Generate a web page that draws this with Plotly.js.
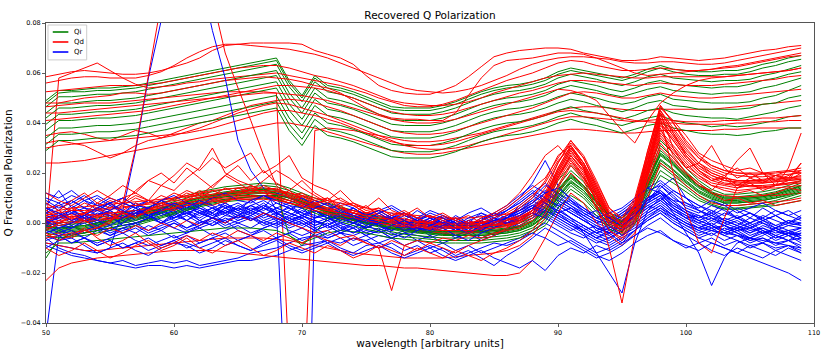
<!DOCTYPE html>
<html><head><meta charset="utf-8">
<script src="https://cdn.plot.ly/plotly-3.0.1.min.js"></script>
<style>html,body{margin:0;padding:0;background:#fff;}#chart{width:832px;height:355px;}</style>
</head><body><div id="chart"></div>
<script>
// wavelength samples
const wavelength = [50,51,52,53,54,55,56,57,58,59,60,61,62,63,64,65,66,67,68,69,70,71,72,73,74,75,76,77,78,79,80,81,82,83,84,85,86,87,88,89,90,91,92,93,94,95,96,97,98,99,100,101,102,103,104,105,106,107,108,109];
// all polarization values below are in units of 0.001
const qiUpper = [
[49,53,53,53.5,54,54,54.5,55,56,57, 58,59,60,61,62,63,64,65,66,57, 51,59,55,54,52.5,50.5,48.5,46.5,46,46, 46,47,48.5,50.5,52.5,54,55,55.5,56.5,58, 60.5,62,61,60,59,58,59.5,61.5,63,61.5, 61,60.5,60.5,61,61,62,63.5,64.5,66,67],
[48,52,52.5,52.5,53,53,53.5,54,55,56, 57,58,59,60,61,62,63,64,65,56, 50,58,54,53,51.5,49.5,47.5,45.5,45,45, 45,46,47.5,49.5,51.5,53,54,54.5,55.5,57, 59.5,61,60,59,58,57,58.5,60.5,62,60.5, 59.5,59,59,59.5,59.5,60.5,62,63,64.5,65.5],
[46.5,50.5,50.5,51,51.5,51.5,52,52.5,53.5,54.5, 55.5,56.5,57.5,58.5,59.5,60.5,61.5,62.5,63.5,54.5, 48.5,56.5,52.5,51.5,50,48,46,44,43.5,43.5, 43.5,44.5,46,48,50,51.5,52.5,53,54,55.5, 58,59.5,58.5,57.5,56,55,56.5,58.5,59.5,58, 57.5,57,56.5,57,57,57.5,59,60,61.5,63],
[44,48,48,48.5,49,49,49.5,50,51,52, 53,54,55,56,57,58,59,60,61,52, 46,54,50,49,47.5,45.5,43.5,41.5,41,41, 41,42,43.5,45.5,47.5,49,50,50.5,51.5,53, 55.5,57,56,55,53.5,52.5,54,56,57,55.5, 55,54.5,54,54.5,54.5,55.5,57,58,59.5,60.5],
[42,46,46,46.5,47,47,47.5,48,49,50, 51,52,53,54,55,56,57,58,59,50, 44,52,48,47,45.5,43.5,41.5,39.5,39,39, 39,40,41.5,43.5,45.5,47,48,48.5,49.5,51, 53.5,55,54,53,51.5,50.5,52,53.5,54.5,53, 52.5,52,51.5,52,52,52.5,54,55,56.5,58],
[39.5,43.5,43.5,44,44.5,44.5,45,45.5,46.5,47.5, 48.5,49.5,50.5,51.5,52.5,53.5,54.5,55.5,56.5,47.5, 41.5,49.5,45.5,44.5,43,41,39,37,36.5,36.5, 36.5,37.5,39,41,43,44.5,45.5,46,47,48.5, 50.5,52,51,50,48.5,47.5,48.5,50.5,51.5,49.5, 49,48.5,48,48,48,48.5,50,51,53,55],
[37,41,41,41.5,42,42,42.5,43,44,45, 46,47,48,49,50,51,52,53,54,45, 39,47,43,42,40.5,38.5,36.5,34.5,34,34, 34,35,36.5,38.5,40.5,42,43,43.5,44.5,46, 48,49.5,48.5,47,46,44.5,46,48,49,47, 46.5,45.5,45.5,45.5,45.5,46,47.5,48,50,51],
[34,38,38,38.5,39,39,39.5,40,41,42, 43,44,45,46,47,48,49,50,51,42, 36,44,40,39,37.5,35.5,33.5,31.5,31,31, 31,32,33.5,35.5,37.5,39,40,40.5,41.5,43, 45,46.5,45,44,43,41.5,43,45,46,44, 43,42.5,42,42,41.5,42.5,43.5,44.5,46,47],
[31.5,35.5,35.5,36,36.5,36.5,37,37.5,38.5,39.5, 40.5,41.5,42.5,43.5,44.5,45.5,46.5,47.5,48.5,39.5, 33.5,41.5,37.5,36.5,35,33,31,29,28.5,28.5, 28.5,29.5,31,33,35,36.5,37.5,38,39,40.5, 42.5,44,42.5,41.5,40,39,40.5,42,43,41, 40,39.5,38.5,39,38.5,39,40,41,42.5,43],
[29,33,33,33.5,34,34,34.5,35,36,37, 38,39,40,41,42,43,44,45,46,37, 31,39,35,34,32.5,30.5,28.5,26.5,26,26, 26,27,28.5,30.5,32.5,34,35,35.5,36.5,38, 40,41.5,40,39,37.5,36,37.5,39,40,38, 37,36,35.5,35.5,35,35.5,36.5,37,38,38]
];
const qiLower = [
[1,0,0.5,1,2,3,4,5,6.5,8, 9.5,11,12.5,13.5,14.5,15,15.5,16,15.5,14, 12,10,8,6.5,5,3.5,2.5,1.5,0.5,0, -0.5,-1,-1,-1,-1,-0.5,0,1,3,8, 17,23,18,11,4,2,7,21,33,28, 22,17,13.5,11.5,11.5,12,12.5,13.5,15,17],
[0,-1,-0.5,0,1,2,3,4,5.5,7, 8.5,10,11.5,12.5,13.5,14,14.5,15,14.5,13, 11,9,7,5.5,4,2.5,1.5,0.5,-0.5,-1, -1.5,-2,-2,-2,-2,-1.5,-1,0,2,6.5, 15,21,16.5,10,3,1,6,19,31,26, 20.5,16,12.5,10.5,10.5,11,11.5,12.5,14,16],
[-1,-2,-1.5,-1,0,1,2,3,4.5,6, 7.5,9,10.5,11.5,12.5,13,13.5,14,13.5,12, 10,8,6,4.5,3,1.5,0.5,-0.5,-1.5,-2, -2.5,-3,-3,-3,-3,-2.5,-2,-1,1,5, 13.5,19.5,15,9,2.5,0.5,5,17.5,29,24.5, 19.5,15,12,10,10,10.5,11,12,13.5,15],
[-1.5,-2.5,-2,-1.5,-0.5,0.5,1.5,2.5,4,5.5, 7,8.5,10,11,12,12.5,13,13.5,13,11.5, 9.5,7.5,5.5,4,2.5,1,0,-1,-2,-2.5, -3,-3.5,-3.5,-3.5,-3.5,-3,-2.5,-1.5,0.5,4.5, 12.5,18.5,14.5,8.5,2,0,4.5,16.5,27.5,23.5, 18.5,14.5,11.5,9.5,9.5,10,10.5,11.5,13,14.5],
[-2,-3,-2.5,-2,-1,0,1,2,3.5,5, 6.5,8,9.5,10.5,11.5,12,12.5,13,12.5,11, 9,7,5,3.5,2,0.5,-0.5,-1.5,-2.5,-3, -3.5,-4,-4,-4,-4,-3.5,-3,-2,0,4, 12,18,14,8,2,0,4,16,27,23, 18,14,11,9,9,9.5,10,11,12.5,14],
[-2.5,-3.5,-3,-2.5,-1.5,-0.5,0.5,1.5,3,4.5, 6,7.5,9,10,11,11.5,12,12.5,12,10.5, 8.5,6.5,4.5,3,1.5,0,-1,-2,-3,-3.5, -4,-4.5,-4.5,-4.5,-4.5,-4,-3.5,-2.5,-0.5,3, 11,17,13,7,1,-1,3,15,25.5,21.5, 17,13,10.5,8.5,8.5,9,9.5,10.5,12,13.5],
[-3,-4,-3.5,-3,-2,-1,0,1,2.5,4, 5.5,7,8.5,9.5,10.5,11,11.5,12,11.5,10, 8,6,4,2.5,1,-0.5,-1.5,-2.5,-3.5,-4, -4.5,-5,-5,-5,-5,-4.5,-4,-3,-1,2.5, 10,16,12,6.5,0.5,-1.5,2.5,14,24,20, 16,12,9.5,8,8,8.5,9,10,11.5,13],
[-4,-5,-4.5,-4,-3,-2,-1,0,1.5,3, 4.5,6,7.5,8.5,9.5,10,10.5,11,10.5,9, 7,5,3,1.5,0,-1.5,-2.5,-3.5,-4.5,-5, -5.5,-6,-6,-6,-6,-5.5,-5,-4,-2,1.5, 9,15,11,5.5,-0.5,-2.5,1.5,13,23,19, 15,11,8.5,7,7,7.5,8,9,10.5,12],
[-5,-6,-5.5,-5,-4,-3,-2,-1,0.5,2, 3.5,5,6.5,7.5,8.5,9,9.5,10,9.5,8, 6,4,2,0.5,-1,-2.5,-3.5,-4.5,-5.5,-6, -6.5,-7,-7,-7,-7,-6.5,-6,-5,-3,0.5, 8,13.5,10,4.5,-1.5,-3.5,0.5,11.5,21,17.5, 14,10,7.5,6,6,6.5,7,8,9.5,11],
[-12,-8,-8,-7.5,-7,-6.5,-6,-5.5,-5,-4.5, -4,-3.5,-3,-2.5,-2,-2,-2,-2.5,-3,-5, -8,-6,-4,-3,-3.5,-4,-5,-6,-6.5,-7, -7.5,-8,-8,-8,-8,-7.5,-7,-6,-4,-1, 6,11,8,3,-2.5,-4.5,-0.5,10,19,16, 12.5,9,7,5.5,5.5,6,6.5,7,8,9],
[-14,-6,-5,-4,-3,-2,-1,0,1,2.5, 4,5.5,7,8,9,10,10.5,11,11,10, 8,6.5,4.5,3,1.5,0,-1,-2,-3,-3.5, -4,-4.5,-5,-5,-5,-4.5,-4,-3,-1,3, 10.5,16.5,13,7,1,-1,3,14.5,25,21, 16.5,12.5,10,8,8,8.5,9,10,11,12.5],
[-1,-2,-1.5,-1,0,1,2,3,4.5,6, 7,8.5,10,11,12,12.5,13,13.5,12,-5, -9,-4,2,2.5,1.5,0,-1,-2,-2.5,-3, -3.5,-3.5,-3.5,-3.5,-3.5,-3,-2.5,-1.5,0.5,5, 13,19,15,9,3,0.5,5,17,28,24, 19,15,12,10,10,10,10.5,11.5,13,15]
];
const qdUpper = [
[58.5,59.5,60.5,61,60.5,60,59.5,59.5,60,61, 62.5,64,66,69,71,71.5,72,72,72,72, 71.5,69,67.5,66,63.5,59,55,53,52,51.5, 51.5,53,55,58.5,62.5,66.5,68,69,69.5,70, 70,69.5,68,67,66,65,65,65.5,66.5,66, 65.5,65,65.5,66,67,68,69,69.5,70.5,71],
[56,57,58,58.5,58.5,58,58,58,59,60.5, 63,66,68.5,70.5,71.5,71.5,71,70.5,70,69.5, 68.5,67.5,66,64,62,60,58,56,54,53, 52.5,52,52.5,53.5,55,57,59,61.5,63.5,65, 66,66.5,66.5,66,65.5,64.5,64,64,64.5,64.5, 64,63.5,63.5,64,65,66,67,68,69,70],
[-2,58,60,62,64,61,58,55.5,54,54.5, 55,56,56.5,57.5,58,58.5,59,59.5,60,59, 58,57,56,55,53.5,52,50,48.5,47,46.5, 46.5,47.5,49,51,53,55,57,58.5,60,62, 64,65,64.5,63,62,61,61,61.5,62,61.5, 61,61,61.5,62,62.5,63.5,64.5,65.5,66.5,67],
[52.5,53,53.5,54,54.5,55,55,55,55.5,56, 57,58,59,60,61,62,62.5,63,63,62, 60.5,59,58,56.5,55,53,51,49,48,47.5, 47,47,47.5,48.5,50,52,53.5,55,56.5,58, 59,59.5,60,59.5,59,58.5,58,58,58.5,58.5, 58.5,58.5,58.5,58.5,59,59.5,60,60.5,61,62],
[46.5,47,47.5,48,48,48,48.5,49,49.5,50, 50.5,51,51.5,52,52.5,52.5,52.5,52.5,52,-58, -88,37,38,37.5,37,36,35,34,33,32.5, 32.5,33,34,35,36,37.5,39,40.5,42,43.5, 45,46,46.5,46.5,46,45.5,45,45,45.5,45.5, 45.5,45.5,45.5,46,46.5,47,47.5,48,48.5,49],
[41,41.5,42,42.5,43,43.5,44,44.5,45,46, 47,48,49,50,51,52,53,54,55,55, 54.5,54,53,51.5,50,48,46,44.5,43.5,43, 43,43.5,44.5,46,47.5,49,50.5,52,53,54.5, 56,57,57,56.5,56,55.5,55,55.5,56,55.5, 55,55,55,55.5,56,56.5,57,57.5,58.5,59],
[35,36,36.5,35.5,34,33,35,37,36,34, 36,38,40,41,43,45,47,48,49,49.5, 49,48,46.5,45,43,41,39,37,36,35.5, 35.5,36,37,38.5,40,41.5,43,44.5,46,48, 50,52,52.5,52,51,50,50,51,52,51, 50.5,50,50,50.5,51,51.5,52,52.5,53,53.5],
[24,24,24.5,25,26,27,28,29,30,31, 32,33,34,35,36,37,38,39,40,40, 39,38,36.5,35,33.5,32,30.5,29,28,27.5, 27.5,28,29,30,31,32,33,34,35,36, 37,37.5,37.5,37,36.5,36,36,36.5,37,37, 37,37,37,37.5,37.5,38,38,38,38,38],
[32,33,32,31,28.5,26,28,31,33,34, 35,36.5,38,40,42,44,45.5,47,48,47.5, 46,44.5,43,41,39,37,35,33,31,30, 29.5,29.5,30,31,32.5,34,35.5,37,38.5,40, 41.5,42.5,42.5,42,41.5,41,40.5,41,41.5,41, 40.5,40.5,40.5,41,41,41.5,42,42,42.5,43],
[48,48,49,50,50.5,51,52,52,51.5,52, 53,54,55,56,57,57.5,58,58.5,58,57.5, 56.5,55,54,52,49,46,43.5,42,41.5,41.5, 41,41,44,51,58,63,65,65.5,66,67, 68,68,67.5,66,64,62,60,59,59.5,60, 60.5,61,61.5,62.5,63,64,65,66,67,68],
[44,44,44.5,45,45.5,46,46.5,47,47.5,48, 48.5,49,49.5,50,50.5,51,51.5,52,52,51.5, 51,50,49,47.5,46,44.5,43,41.5,40.5,40, 40,40.5,41.5,43,44.5,46,47.5,49,50.5,52, 53.5,53,51.5,49,43,37,32,41,48,52, 55,57,58,58.5,59,59.5,60,60.5,61,62],
[30,31,31.5,32,32.5,33,33.5,34,34.5,35, 35.5,36,37,38,39.5,41,42.5,44,45,45, 44,43,41.5,40,38,36,34,32.5,31.5,31, 31,31.5,32.5,34,35.5,37,38.5,40,41.5,43, 44.5,45,44.5,44,43,42,41,40.5,40,40, 39.5,39.5,39.5,39.5,40,40,40.5,40.5,41,41]
];
const qdLower = [
[2,3,3.5,4,5,5.5,6,7,8,9, 10,11,12,13,13.5,14,14,14,13.5,12, 10.5,9,7.5,6,5,4,3,2,1.5,1, 0.5,0,0,0,0.5,1,1.5,3,6,12, 24,33,26,15,4,0,7,26,47,40, 32,26,22,20,19,18.5,18.5,19,19.5,20],
[1,2,2.5,3,3.5,4,4.5,5,6,7, 8,9,10,11,11.5,12,12,12,11.5,10, 8.5,7,5.5,4,3,2,1,0,-0.5,-1, -1.5,-2,-2,-2,-1.5,-1,-0.5,1,4,10, 21,30,23,13,3,-1,6,23,43,36, 29,24,20,18,17,16.5,16.5,17,17.5,18],
[0,1,1.5,2,2.5,3,3.5,4,5,6, 7,8,9,10,10.5,11,11,11,10.5,9, 7.5,6,4.5,3,2,1,0,-1,-1.5,-2, -2.5,-3,-3,-3,-2.5,-2,-1.5,0,3,9, 19,28,22,12,2,-2,5,22,40,34, 27,22,19,17,16.5,16,16,16.5,17,17.5],
[-1,0,0.5,1,1.5,2,2.5,3,4,5, 6,7,8,9,9.5,10,10,10,9.5,8, 6.5,5,3.5,2,1,0,-1,-2,-2.5,-3, -3.5,-4,-4,-4,-3.5,-3,-2.5,-1,2,7, 17,25,19,10,1,-3,4,20,37,31, 25,20,17,15.5,15,14.5,14.5,15,15.5,16],
[3,5,2,4,6,3,5,8,6,9, 12,10,13,11,14,12,15,13,11,9, 11,8,6,7,4,3,5,2,0,1, -1,0,-2,1,-1,0,2,1,5,11, 22,31,24,14,3,-4,8,25,44,37, 30,24,21,19,22,18,20,17,19,21],
[5,2,6,4,8,6,10,12,9,15, 13,18,22,30,20,17,15,13,14,11, 10,8,9,6,5,3,4,1,2,0, 1,-1,0,-2,0,1,-1,2,4,9, 18,27,20,11,1,-3,3,19,36,30, 24,19,16,15,14,15,14,15,16,17],
[0,3,1,4,2,5,8,13,17,15, 19,24,21,26,22,25,28,20,23,27, 18,15,13,9,7,4,5,2,3,1, 0,2,-1,0,1,-1,0,2,5,10, 20,29,22,12,2,-2,6,22,41,35, 28,23,20,18,17,17,17.5,18,18,19],
[-8,-9,-10,-11,-11,-10.5,-10,-9.5,-9,-8.5, -8,-7.5,-7,-6.5,-6,-6,-6,-6,-6.5,-7, -8,-9,-10,-11,-12,-12.5,-13,-13.5,-14,-14, -14,-14,-13.5,-13,-12.5,-12,-11,-9,-5,2, 12,20,15,6,-3,-7,0,15,30,25, 19,15,12,11,10.5,10.5,11,11,11.5,12],
[-23,-18,-16,-15,-14,-13.5,-13,-12.5,-12,-11.5, -11,-11,-11,-11,-11.5,-12,-12.5,-13,-13.5,-14, -14.5,-15,-15.5,-16,-16.5,-17,-17,-17.5,-18,-18, -18.5,-19,-19.5,-20,-20.5,-21,-21,-20,-15,-6, 4,12,8,0,-5,-9,-4,10,24,20, 15,11,8,7,7,7.5,8,8.5,9,10],
[4,5,6,6.5,7,7.5,8,8.5,9,9.5, 10,10.5,11,11.5,12,12.5,13,13,12.5,12, 11,10,9,8,7,6,5,4,3.5,3, 2.5,2,2,2,2.5,3,3.5,5,8,14, 24,32,26,16,6,1,9,27,45,38, 31,26,23,21,20,20,20,20.5,21,22],
[-5,-4,-6,-3,-5,-2,-4,-1,-3,0, -2,1,-1,2,0,3,1,4,2,0, -2,-4,-3,-6,-5,-8,-10,-27,-9,-7, -8,-6,-7,-5,-6,-4,-3,-2,1,6, 15,24,18,9,-1,-5,2,18,34,28, 22,18,15,14,13,13.5,14,14,14.5,15],
[2,3,2.5,3.5,3,4,4.5,5,5.5,6.5, 7.5,8,9,9.5,10,10.5,10.5,10.5,10,9, 8,6.5,5,4,3,2,1,0.5,0,-0.5, -1,-1.5,-1.5,-1.5,-1,-0.5,0,1.5,4,10, 20,29,22,8,-10,-32,-5,20,42,35, 28,23,19,17,16,16,16,16.5,17,17.5],
[1,0,2,1,3,2,4,3,5,6, 5,7,8,7,9,10,9,11,10,8, 7,6,5,6,4,3,2,1,0,-1, 0,-1,-2,-1,0,-1,1,2,5,11, 21,30,23,13,3,-1,6,24,44,30, 22,24,31,22,18,20,17,19,18,24],
[-2,-1,0,0.5,1,1.5,2,3,4,5, 6,7,8,8.5,9,9.5,9.5,9.5,9,8, 6.5,5,4,3,2,1,0,-1,-1.5,-2, -2.5,-3,-3,-3,-2.5,-2,-1,0.5,3,8, 18,27,21,11,1,-2,5,21,38,27, 20,15,13,18,25,30,20,15,22,36],
[3,4,5,5,5.5,6,6.5,7,7.5,8, 9,9.5,10,10.5,11,11.5,12,12,11.5,10.5, 9,7.5,6,5,4,3,2,1.5,1,0.5, 0,-0.5,-0.5,-0.5,0,0.5,1,2.5,5,11, 22,31,24,14,4,0,7,24,42,20, 5,-8,-12,2,14,17,17,17.5,18,18.5],
[6,7,5,8,6,9,7,10,8,11, 9,12,10,13,11,14,12,15,13,11, 12,9,10,7,8,5,6,3,4,2, 3,1,2,0,1,3,6,10,14,18, 26,33,27,17,6,2,10,28,47,40, 33,27,23,21,20,19.5,19.5,20,20.5,21],
[-6,-5,-4,-3,-2,0,8,30,60,88, 110,120,112,90,68,54,41,27,15,10, 8,6,5,4,3,2,1,0,-1,-1.5, -2,-2,-2,-2,-1.5,-1,-0.5,1,4,9, 19,27,21,11,1,-3,4,21,39,33, 26,21,18,16,15.5,15,15,15.5,16,16.5],
[-4,-7,-5,-2,-6,-9,-7,-4,-8,-11, -9,-6,-10,-12,-9,-7,-10,-13,-11,-8, -10,-12,-9,-11,-14,-12,-9,-11,-13,-10, -12,-14,-11,-13,-15,-12,-10,-7,-3,4, 14,23,17,6,-3,-6,1,16,32,26, 20,16,12,9,10,8,9,7,8,9],
[8,5,9,12,8,11,15,12,17,20, 16,22,18,14,19,23,17,21,16,13, 17,12,9,13,8,6,10,5,3,6, 2,4,1,3,0,2,4,7,11,16, 25,30,24,15,5,-1,8,24,40,33, 26,21,17,19,15,18,16,19,17,20],
[-3,0,3,1,-2,1,4,2,5,8, 6,9,12,10,8,11,14,12,10,13, 9,7,10,6,4,7,3,1,4,0, -2,1,-1,-4,-2,0,3,6,10,17, 27,31,22,12,3,-1,7,27,45,36, 27,21,17,18,14,16,13,15,17,24],
[12,9,7,10,13,10,8,11,9,7, 10,13,11,15,19,16,13,17,21,18, 14,11,8,10,7,4,6,3,5,2, 0,3,1,-1,2,4,7,12,19,27, 31,25,18,9,0,-3,7,29,46,41, 35,28,25,23,21,22,20,19,21,20],
[-10,-13,-11,-8,-11,-14,-12,-9,-7,-10, -8,-5,-7,-4,-6,-3,-5,-7,-4,-6, -8,-5,-7,-9,-6,-8,-10,-7,-9,-11, -8,-10,-12,-9,-7,-5,-2,1,5,10, 18,26,19,9,-1,-4,3,19,35,29, 23,19,15,13,12,13,11,12,14,13]
];
const qr = [
[5,8,4,6,3,7,5,2,6,4, 7,5,8,6,3,6,4,7,5,3, 6,2,4,1,3,0,2,-1,1,-2, 0,2,-1,1,3,0,2,5,8,12, 9,6,3,0,-2,1,5,9,12,7, 4,2,5,1,3,0,2,-1,1,0],
[-3,0,-2,1,-1,2,0,3,1,4, 2,5,3,6,4,7,5,3,6,4, 2,5,3,1,4,2,0,3,1,-1, 2,0,-2,1,-1,2,0,3,6,9, 7,4,1,-2,-4,0,3,7,10,6, 3,0,2,-1,1,-2,0,-3,-1,-2],
[12,10,13,9,11,8,10,7,9,6, 8,5,7,9,6,8,5,7,4,6, 3,5,2,4,1,3,0,2,-1,1, 3,0,2,-1,1,4,2,6,10,15, 12,8,5,2,0,4,8,13,15,10, 7,5,3,6,2,4,1,3,0,2],
[0,-3,-1,-4,-2,-5,-3,-1,-4,-2, 0,-3,-1,1,-2,0,2,-1,1,-2, 0,-3,-1,-4,-2,-5,-3,-6,-4,-2, -5,-3,-6,-4,-2,-5,-3,0,3,6, 4,1,-2,-5,-7,-3,0,4,7,3, 0,-3,-1,-4,-2,-5,-3,-6,-4,-5],
[-6,-10,-12,-13,-15,-16,-15,-17,-16,-15, -16,-15,-17,-16,-15,-14,-12,-11,-10,-8, -6,-5,-6,-4,-5,-3,-4,-2,-3,-1, -2,-3,-1,-2,0,-1,1,3,6,9, 7,4,1,-2,-4,-1,2,6,9,5, 2,0,-2,-1,-3,-2,-4,-3,-5,-4],
[-9,-11,-13,-14,-15,-16,-17,-18,-17,-17, -18,-17,-18,-17,-16,-15,-15,-14,-13,-11, -9,-8,-7,-8,-6,-7,-5,-6,-4,-5, -6,-4,-5,-3,-4,-2,-1,1,4,7, 5,2,-1,-4,-6,-3,0,4,7,3, 0,-2,-3,-4,-5,-6,-7,-8,-9,-10],
[3,1,4,2,5,3,1,4,2,5, 3,6,4,2,5,3,6,4,2,0, 3,1,-1,2,0,-2,1,-1,-3,0, -2,1,-1,-3,0,-2,1,4,7,10, 6,2,-4,-12,-20,-28,-8,5,10,6, 3,1,-1,2,0,-2,1,-1,-3,-2],
[-2,1,-1,2,0,3,1,-1,2,0, 3,1,4,2,0,3,1,4,2,0, -2,1,-1,2,0,-2,1,-1,-3,0, -2,0,-3,-1,1,-2,0,2,5,8, 4,0,-3,-6,-4,-1,3,8,11,4, -4,-12,-25,-14,-8,-6,-8,-5,-7,-6],
[1,3,0,2,-1,1,3,0,2,4, 1,3,0,2,4,1,3,0,2,-1, 1,-2,0,-3,-1,-4,-2,-5,-3,-1, -4,-2,-5,-3,-6,-4,-2,0,3,5, 2,-1,-4,-7,-9,-6,-3,1,4,0, -3,-6,-8,-10,-12,-14,-16,-18,-20,-23],
[4,2,5,3,6,4,2,5,3,6, 4,7,5,3,6,4,7,5,8,6, 4,2,5,3,1,4,2,0,3,1, -1,2,0,-2,1,3,6,10,16,25, 15,9,4,1,-1,2,6,10,13,8, 5,3,1,4,2,0,3,1,-1,0],
[7,13,6,9,5,8,4,7,3,6, 2,5,1,4,0,3,5,2,4,1, 3,0,2,-1,1,-2,0,-3,-1,-4, -2,0,-3,-1,2,0,3,6,9,6, 3,0,-3,-6,-3,0,4,8,14,18, 10,5,2,0,-2,-4,-1,-3,-5,-3],
[-45,-5,-8,-6,-9,-7,-10,-8,-6,-9, -7,-5,-8,-6,-4,-7,-5,-3,-6,-4, -2,-5,-3,-1,-4,-2,0,-3,-1,1, -2,0,-3,-1,1,-2,1,3,6,4, 8,5,2,-1,-3,0,3,6,9,5, 2,-1,-3,-5,-7,-9,-8,-10,-9,-11],
[8,5,9,6,10,7,4,8,5,9, 6,3,7,4,8,5,9,6,3,7, 4,8,5,2,6,3,0,4,1,5, 2,-1,3,0,4,1,5,8,12,9, 12,9,6,3,1,4,7,11,9,13, 10,7,4,8,5,2,6,3,0,3],
[-5,-7,-4,-6,-3,-5,-2,-4,-1,-3, 0,-2,1,-1,2,0,-2,1,-1,2, 0,-3,-1,-4,-2,-5,-3,-6,-4,-7, -5,-8,-6,-4,-7,-5,-3,-1,2,5, 3,0,-3,-6,-8,-5,-1,3,6,2, -1,-4,-2,-5,-3,-6,-4,-7,-5,-8],
[-8,-9,-10,-11,-12,-10,5,29,58,81, 105,115,100,77,58,33,21,14,5,-100, -190,5,3,1,4,2,0,3,1,-1, 2,0,-2,1,-1,2,0,3,6,10, 7,4,1,-2,-4,0,4,8,11,7, 4,1,3,0,2,-1,1,-2,0,-1],
[2,4,1,3,0,2,4,1,3,5, 2,4,6,3,5,2,4,1,3,0, 2,-1,1,-2,0,2,-1,1,-2,0, 2,-1,1,-2,0,1,3,5,9,13, 10,7,4,1,-1,3,7,12,16,12, 8,5,3,1,-1,-3,-2,-4,-3,-5],
[-1,-4,-2,0,-3,-1,-4,-2,-5,-3, -6,-4,-2,-5,-3,-1,-4,-2,0,-3, -5,-3,-6,-4,-7,-5,-8,-6,-9,-7, -10,-8,-11,-9,-12,-10,-8,-6,-3,0, -3,-6,-9,-12,-10,-7,-3,1,4,0, -3,-6,-4,-7,-5,-8,-6,-9,-7,-10],
[6,3,7,4,1,5,2,6,3,0, 4,1,5,2,6,3,7,4,1,5, 8,5,2,6,3,0,4,1,-2,2, -1,3,0,-3,1,-2,2,5,7,4, 1,-2,-5,-8,-6,-3,1,5,8,4, 1,-2,0,-3,-1,-4,-2,-5,-3,-6],
[0,2,4,1,3,5,2,4,6,3, 5,7,4,6,8,5,7,9,6,8, 10,7,5,8,6,3,5,2,4,1, 3,0,2,-1,1,4,7,11,15,12, 9,6,3,0,2,5,9,14,17,13, 10,7,5,3,6,4,2,5,3,1],
[-4,-2,-5,-3,-1,-4,-2,0,-3,-1, 1,-2,0,2,-1,1,3,6,12,10, 8,5,2,0,-2,1,-1,-3,0,-2, -4,-1,-3,0,-2,1,0,2,5,8, 5,2,-1,-4,-2,1,5,9,12,8, 4,1,-1,-3,-5,-7,-6,-8,-7,-9],
[10,8,11,9,7,10,8,6,9,7, 5,8,6,4,7,5,3,6,4,2, 5,3,1,4,2,0,3,1,-1,2, 0,-2,1,-1,-3,0,2,4,6,3, 0,-3,-1,-4,-2,1,4,7,5,2, -1,-3,-5,-2,-4,-6,-3,-5,-7,-4],
[-7,-5,-8,-6,-9,-7,-10,-8,-11,-9, -7,-10,-8,-6,-9,-7,-5,-8,-6,-4, -7,-5,-8,-6,-9,-7,-10,-8,-11,-9, -12,-10,-13,-11,-14,-17,-13,-10,-6,-2, -5,-8,-11,-14,-12,-9,-5,-1,2,-2, -5,-8,-6,-9,-7,-10,-8,-11,-9,-12],
[2,-1,-2,1,4,3,-1,0,2,6, 5,1,-2,0,3,2,5,8,4,1, -1,2,3,-2,-4,-1,1,0,-3,-2, 1,3,0,-4,-2,-1,2,7,11,8, 4,6,2,-3,-5,-2,3,10,12,6, 2,3,-1,-4,-2,0,-3,-6,-4,-2],
[-1,3,5,2,-2,-3,0,4,3,1, -2,-4,-1,2,1,-3,-5,-2,0,3, 1,-2,-5,-3,0,2,-1,-4,-6,-3, -1,-2,-5,-7,-4,-2,0,1,4,2, -1,-4,-6,-3,-1,-5,-2,2,5,1, -2,-5,-3,-1,-4,-7,-5,-2,-4,-6],
[4,7,9,6,5,8,10,7,6,9, 11,8,7,10,12,9,8,11,9,7, 6,9,7,4,6,3,5,7,4,2, 5,3,1,4,6,3,5,9,13,10, 7,9,5,2,4,6,10,14,12,9, 8,6,9,7,4,6,8,5,3,5],
[-10,-7,-6,-9,-12,-10,-8,-11,-13,-10, -8,-9,-12,-10,-7,-9,-11,-8,-6,-9, -11,-9,-7,-10,-12,-9,-8,-10,-13,-11, -9,-11,-14,-12,-10,-8,-9,-7,-4,-6, -9,-7,-10,-13,-15,-12,-8,-5,-3,-7, -10,-8,-11,-13,-10,-12,-14,-11,-13,-15],
[1,-2,0,3,1,-1,2,5,3,0, 2,4,1,-1,1,3,2,0,-2,1, 3,1,-2,0,2,-1,-3,-1,1,-2, -3,-1,1,-1,-3,0,3,5,8,12, 14,10,6,2,0,3,6,10,13,9, 5,2,4,1,-1,2,0,-2,1,-1],
[6,4,1,3,6,8,5,3,6,9, 7,4,2,5,7,4,1,3,6,4, 2,-1,1,3,0,-2,0,2,-1,-3, -1,1,-2,-4,-1,1,2,4,7,5, 2,-1,-3,-1,-4,-8,-3,2,6,3, 0,-2,1,-1,-3,-1,-4,-2,-5,-7],
[-3,-5,-3,-6,-8,-6,-4,-7,-9,-7, -5,-8,-10,-8,-6,-9,-11,-9,-7,-10, -12,-10,-8,-11,-13,-11,-9,-12,-14,-12, -10,-13,-15,-13,-11,-14,-16,-18,-15,-19, -13,-10,-12,-9,-11,-8,-5,-2,-4,-7, -9,-11,-8,-10,-12,-9,-11,-13,-10,-12],
[9,6,8,11,7,5,8,6,3,5, 8,6,9,7,4,6,9,11,8,6, 3,6,8,5,3,1,4,6,3,1, 4,2,-1,2,4,2,5,8,12,16, 11,7,3,5,2,-1,3,9,15,11, 6,4,7,5,2,4,1,3,5,2]
];
const seriesNames = ['Qi', 'Qd', 'Qr'];
const seriesColors = ['#008000', '#ff0000', '#0000ff'];
const xTickValues = [50, 60, 70, 80, 90, 100, 110];
const xTickLabels = ['50', '60', '70', '80', '90', '100', '110'];
const yTickValues = [-0.04, -0.02, 0, 0.02, 0.04, 0.06, 0.08];
const yTickLabels = ['\u22120.04', '\u22120.02', '0.00', '0.02', '0.04', '0.06', '0.08'];
const UNIT = 0.001;

const groups = [qiUpper.concat(qiLower), qdUpper.concat(qdLower), qr];
const traces = [];
const maxLen = Math.max(...groups.map(g => g.length));
for (let i = 0; i < maxLen; i++) {
  groups.forEach((g, s) => {
    if (i < g.length) {
      traces.push({
        type: 'scatter', mode: 'lines', x: wavelength,
        y: g[i].map(v => v * UNIT),
        line: {color: seriesColors[s], width: 1},
        name: seriesNames[s], showlegend: false, hoverinfo: 'skip'
      });
    }
  });
}

const FONT = 'DejaVu Sans, Arial, sans-serif';
const axisCommon = {
  ticks: 'outside', ticklen: 3, tickwidth: 0.8, tickcolor: '#333',
  showline: true, linecolor: '#555', linewidth: 1, mirror: true,
  showgrid: false, zeroline: false,
  tickfont: {family: FONT, size: 6.5, color: '#000'}
};

// legend drawn as layout decoration
const legY = [0.970, 0.9367, 0.9033];
const shapes = [{type: 'rect', xref: 'paper', yref: 'paper', x0: 0.0026, x1: 0.053, y0: 0.877, y1: 0.9933,
  line: {color: '#cccccc', width: 1}, fillcolor: 'rgba(255,255,255,0.85)', layer: 'above'}];
const annotations = [];
seriesNames.forEach((n, s) => {
  shapes.push({type: 'line', xref: 'paper', yref: 'paper', x0: 0.0088, x1: 0.0291, y0: legY[s], y1: legY[s],
    line: {color: seriesColors[s], width: 1.6}, layer: 'above'});
  annotations.push({xref: 'paper', yref: 'paper', x: 0.0335, y: legY[s], xanchor: 'left', yanchor: 'middle',
    text: n, showarrow: false, font: {family: FONT, size: 7, color: '#000'}});
});

const layout = {
  width: 832, height: 355,
  margin: {l: 46, r: 18, t: 23, b: 32, pad: 0},
  paper_bgcolor: '#ffffff', plot_bgcolor: '#ffffff',
  showlegend: false,
  title: {text: 'Recovered Q Polarization', font: {family: FONT, size: 10.5, color: '#000'},
    x: 0.5, xref: 'paper', xanchor: 'center', y: 0.958, yref: 'container', yanchor: 'middle'},
  xaxis: Object.assign({}, axisCommon, {range: [50, 110], tickvals: xTickValues, ticktext: xTickLabels,
    title: {text: 'wavelength [arbitrary units]', font: {family: FONT, size: 10.5, color: '#000'}, standoff: 3}}),
  yaxis: Object.assign({}, axisCommon, {range: [-0.04, 0.08], tickvals: yTickValues, ticktext: yTickLabels,
    title: {text: 'Q Fractional Polarization', font: {family: FONT, size: 10.5, color: '#000'}, standoff: 6}}),
  shapes: shapes,
  annotations: annotations
};

Plotly.newPlot('chart', traces, layout, {staticPlot: true, displayModeBar: false});
</script>
</body></html>
